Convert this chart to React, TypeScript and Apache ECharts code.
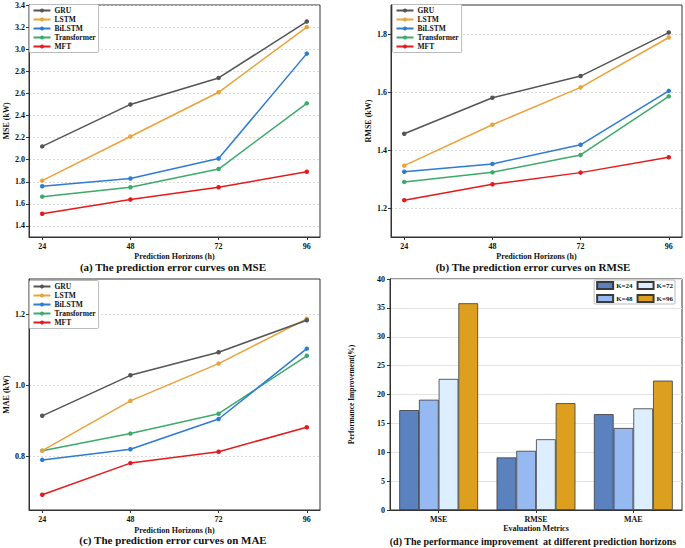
import React, { useEffect, useRef } from "react";
import * as echarts from "echarts";

const horizons = [24, 48, 72, 96];
const modelNames = ["GRU", "LSTM", "BiLSTM", "Transformer", "MFT"];
const modelColors = ["#555555", "#e8a33a", "#2e7bd6", "#3daa6a", "#e41a1c"];

const mseGRU = [2.12, 2.5, 2.74, 3.25];
const mseLSTM = [1.81, 2.21, 2.61, 3.2];
const mseBiLSTM = [1.76, 1.83, 2.01, 2.96];
const mseTransformer = [1.665, 1.75, 1.915, 2.51];
const mseMFT = [1.51, 1.64, 1.75, 1.89];

const rmseGRU = [1.456, 1.58, 1.655, 1.805];
const rmseLSTM = [1.346, 1.487, 1.616, 1.788];
const rmseBiLSTM = [1.325, 1.352, 1.418, 1.604];
const rmseTransformer = [1.29, 1.323, 1.383, 1.585];
const rmseMFT = [1.227, 1.282, 1.322, 1.375];

const maeGRU = [0.915, 1.029, 1.094, 1.184];
const maeLSTM = [0.817, 0.957, 1.062, 1.188];
const maeBiLSTM = [0.791, 0.821, 0.906, 1.104];
const maeTransformer = [0.817, 0.865, 0.921, 1.084];
const maeMFT = [0.693, 0.782, 0.814, 0.883];

const mseTicks = [1.4, 1.6, 1.8, 2.0, 2.2, 2.4, 2.6, 2.8, 3.0, 3.2, 3.4];
const rmseTicks = [1.2, 1.4, 1.6, 1.8];
const maeTicks = [0.8, 1.0, 1.2];

const metrics = ["MSE", "RMSE", "MAE"];
const kNames = ["K=24", "K=48", "K=72", "K=96"];
const kColors = ["#5b82bf", "#96b9f2", "#ddeeff", "#dca01e"];
const improveK24 = [17.3, 9.1, 16.6];
const improveK48 = [19.1, 10.25, 14.2];
const improveK72 = [22.7, 12.25, 17.6];
const improveK96 = [35.8, 18.5, 22.4];

const FONT = "'Liberation Serif', 'DejaVu Serif', serif";

export default function App() {
  const ref = useRef<HTMLDivElement>(null);
  useEffect(() => {
    document.body.style.margin = "0";
    const chart = echarts.init(ref.current!, null, { renderer: "svg" });

    const grids = [
      { left: 29, top: 5, width: 291, height: 232 },
      { left: 391, top: 5, width: 291, height: 232 },
      { left: 29, top: 279, width: 291, height: 231 },
      { left: 390, top: 279, width: 292, height: 231 },
    ].map((g) => ({ ...g, show: true, borderColor: "#333", borderWidth: 1, backgroundColor: "transparent" }));

    const tickLabel = { fontFamily: FONT, fontWeight: "bold", fontSize: 8, color: "#111" };
    const axisLine = { show: true, lineStyle: { color: "#333", width: 1 } };
    const axisTick = { show: true, length: 3, lineStyle: { color: "#333" } };

    const lineX = (gi: number, gap: number) => ({
      type: "value",
      gridIndex: gi,
      min: 20.4,
      max: 99.6,
      name: "Prediction Horizons (h)",
      nameLocation: "middle",
      nameGap: gap,
      nameTextStyle: { fontFamily: FONT, fontWeight: "bold", fontSize: 8, color: "#111" },
      axisLine,
      axisTick: { ...axisTick, customValues: horizons },
      axisLabel: { ...tickLabel, margin: 5, customValues: horizons, formatter: (v: number) => String(v) },
      splitLine: { show: false },
    });

    const lineY = (gi: number, min: number, max: number, ticks: number[], name: string, gap: number) => ({
      type: "value",
      gridIndex: gi,
      min,
      max,
      name,
      nameLocation: "middle",
      nameGap: gap,
      nameTextStyle: { fontFamily: FONT, fontWeight: "bold", fontSize: 8, color: "#111" },
      axisLine,
      axisTick: { ...axisTick, customValues: ticks },
      axisLabel: { ...tickLabel, margin: 4, customValues: ticks, formatter: (v: number) => v.toFixed(1) },
      splitLine: { show: true, lineStyle: { color: "#d0d0d0", type: [2, 2], width: 0.8 } },
    });

    const panelSeries = (gi: number, sets: number[][]) =>
      sets.map((vals, i) => ({
        type: "line",
        name: modelNames[i],
        xAxisIndex: gi,
        yAxisIndex: gi,
        data: horizons.map((h, j) => [h, vals[j]]),
        symbol: "circle",
        symbolSize: 4.5,
        lineStyle: { width: 1.5, color: modelColors[i] },
        itemStyle: { color: modelColors[i] },
        z: 10 - i,
      }));

    const lineLegend = (left: number, top: number) => ({
      show: true,
      left,
      top,
      orient: "vertical",
      data: modelNames,
      itemWidth: 17,
      itemHeight: 5,
      itemGap: 1,
      padding: [2, 3, 2, 3],
      borderColor: "#bbb",
      borderWidth: 1,
      borderRadius: 1,
      backgroundColor: "#fff",
      textStyle: { fontFamily: FONT, fontWeight: "bold", fontSize: 7.5, color: "#111", padding: [0, 0, 0, -1] },
    });

    const barSeries = [improveK24, improveK48, improveK72, improveK96].map((vals, i) => ({
      type: "bar",
      name: kNames[i],
      xAxisIndex: 3,
      yAxisIndex: 3,
      data: vals,
      barGap: "0%",
      barCategoryGap: "19%",
      itemStyle: { color: kColors[i], borderColor: "#3a3a3a", borderWidth: 0.8 },
    }));

    const titleStyle = { fontFamily: FONT, fontWeight: "bold", fontSize: 11, color: "#111" };

    const option: any = {
      animation: false,
      backgroundColor: "#fff",
      title: [
        { text: "(a) The prediction error curves on MSE", left: 173, top: 261, textAlign: "center", textStyle: titleStyle, padding: 0 },
        { text: "(b) The prediction error curves on RMSE", left: 533, top: 261, textAlign: "center", textStyle: titleStyle, padding: 0 },
        { text: "(c) The prediction error curves on MAE", left: 173, top: 534, textAlign: "center", textStyle: titleStyle, padding: 0 },
        { text: "(d) The performance improvement  at different prediction horizons", left: 533, top: 536, textAlign: "center", textStyle: { ...titleStyle, fontSize: 10 }, padding: 0 },
      ],
      grid: grids,
      legend: [
        lineLegend(29.5, 4.5),
        lineLegend(392.5, 4.5),
        lineLegend(29.5, 280.5),
        {
          show: true,
          right: 10,
          top: 280,
          width: 80,
          orient: "horizontal",
          data: ["K=24", "K=72", "K=48", "K=96"],
          icon: "rect",
          itemWidth: 16,
          itemHeight: 7,
          itemGap: 4,
          padding: [1, 2, 1, 2],
          borderColor: "#bbb",
          borderWidth: 1,
          borderRadius: 1,
          backgroundColor: "#fff",
          textStyle: { fontFamily: FONT, fontWeight: "bold", fontSize: 7, color: "#111", padding: [0, 0, 0, -2] },
        },
      ],
      xAxis: [
        lineX(0, 15),
        lineX(1, 15),
        lineX(2, 16),
        {
          type: "category",
          gridIndex: 3,
          data: metrics,
          name: "Evaluation Metrics",
          nameLocation: "middle",
          nameGap: 14.5,
          nameTextStyle: { fontFamily: FONT, fontWeight: "bold", fontSize: 8, color: "#111" },
          axisLine,
          axisTick: { show: true, alignWithLabel: true, length: 3, lineStyle: { color: "#333" } },
          axisLabel: { ...tickLabel, margin: 5 },
          splitLine: { show: false },
        },
      ],
      yAxis: [
        lineY(0, 1.3, 3.4, mseTicks, "MSE (kW)", 19),
        lineY(1, 1.1, 1.9, rmseTicks, "RMSE (kW)", 19),
        lineY(2, 0.65, 1.3, maeTicks, "MAE (kW)", 19),
        {
          type: "value",
          gridIndex: 3,
          min: 0,
          max: 40,
          interval: 5,
          name: "Performance Improvement(%)",
          nameLocation: "middle",
          nameGap: 35,
          nameTextStyle: { fontFamily: FONT, fontWeight: "bold", fontSize: 7.5, color: "#111" },
          axisLine,
          axisTick,
          axisLabel: { ...tickLabel, margin: 5 },
          splitLine: { show: true, lineStyle: { color: "#e3e3e3", width: 1.2 } },
        },
      ],
      series: [
        ...panelSeries(0, [mseGRU, mseLSTM, mseBiLSTM, mseTransformer, mseMFT]),
        ...panelSeries(1, [rmseGRU, rmseLSTM, rmseBiLSTM, rmseTransformer, rmseMFT]),
        ...panelSeries(2, [maeGRU, maeLSTM, maeBiLSTM, maeTransformer, maeMFT]),
        ...barSeries,
      ],
    };
    chart.setOption(option);
    return () => chart.dispose();
  }, []);
  return <div ref={ref} style={{ width: 685, height: 548 }} />;
}
